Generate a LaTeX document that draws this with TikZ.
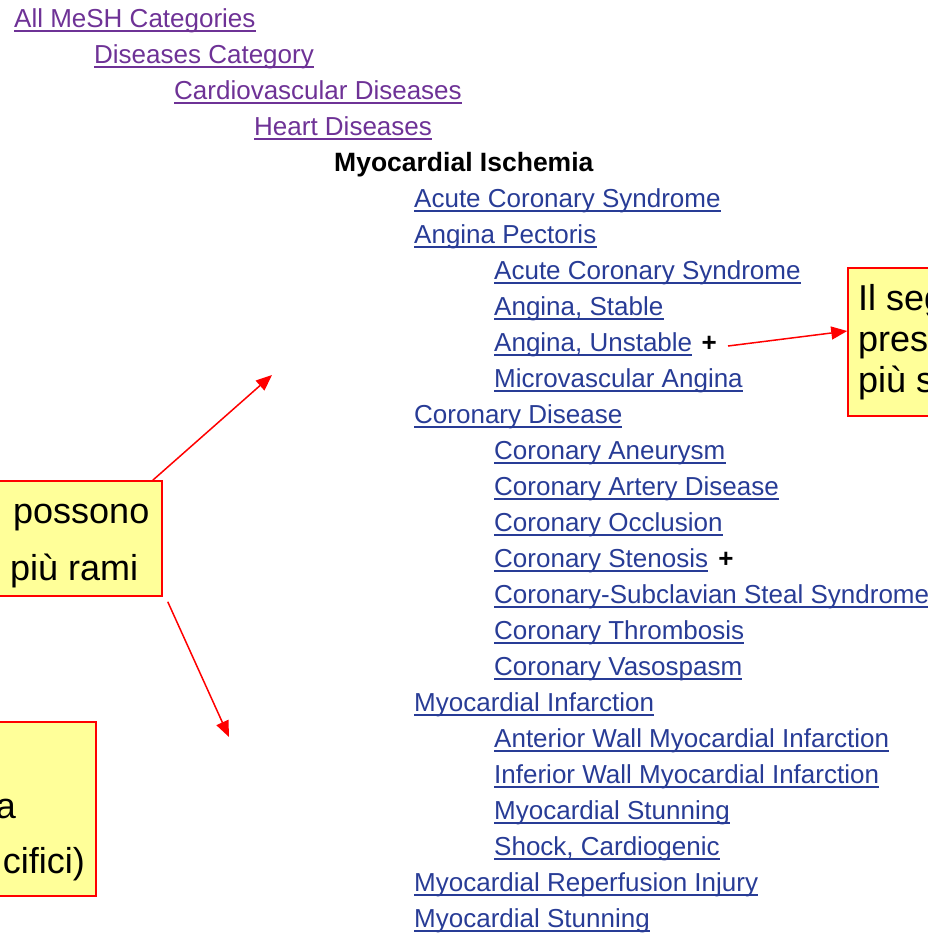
\documentclass[tikz,border=0pt]{standalone}
\usepackage{fontspec}
\setmainfont{Liberation Sans}
\usetikzlibrary{positioning,arrows.meta}
\definecolor{visited}{RGB}{110,50,150}
\definecolor{meshlink}{RGB}{40,60,150}
\definecolor{noteyellow}{RGB}{255,255,153}
\definecolor{notered}{RGB}{255,0,0}

\begin{document}
\begin{tikzpicture}[x=1pt,y=-1pt,
   every node/.style={inner sep=0pt,anchor=base west,font=\fontsize{26}{30}\selectfont},
   seen/.style={text=visited},term/.style={text=meshlink},
   plus/.style={font=\fontsize{26}{30}\selectfont\bfseries},
   note/.style={draw=notered,line width=1.5pt,fill=noteyellow,anchor=center},
   notetext/.style={font=\fontsize{36}{42}\selectfont},
   pointer/.style={draw=notered,line width=1.5pt,-{Triangle[length=16pt,width=13pt]}}]
\useasboundingbox (0,0) rectangle (928,935);
\clip (0,0) rectangle (928,935);

% tree path
\node[seen] (allmesh) at (14,27) {All MeSH Categories};
\node[seen] (diseases) at (94,63) {Diseases Category};
\node[seen] (cardio) at (174,99) {Cardiovascular Diseases};
\node[seen] (heart) at (254,135) {Heart Diseases};
\node[font=\fontsize{26.5}{30}\selectfont\bfseries] (ischemia) at (334,171) {Myocardial Ischemia};

% children
\node[term] (acs) at (414,207) {Acute Coronary Syndrome};
\node[term] (angina) at (414,243) {Angina Pectoris};
\node[term] (acs2) at (494,279) {Acute Coronary Syndrome};
\node[term] (stable) at (494,315) {Angina, Stable};
\node[term] (unstable) at (494,351) {Angina, Unstable};
\node[plus,base right=9pt of unstable] (plusA) {+};
\node[term] (microvasc) at (494,387) {Microvascular Angina};
\node[term] (coronary) at (414,423) {Coronary Disease};
\node[term] (aneurysm) at (494,459) {Coronary Aneurysm};
\node[term] (artery) at (494,495) {Coronary Artery Disease};
\node[term] (occlusion) at (494,531) {Coronary Occlusion};
\node[term] (stenosis) at (494,567) {Coronary Stenosis};
\node[plus,base right=10pt of stenosis] (plusB) {+};
\node[term] (subclavian) at (494,603) {Coronary-Subclavian Steal Syndrome};
\node[term] (thrombosis) at (494,639) {Coronary Thrombosis};
\node[term] (vasospasm) at (494,675) {Coronary Vasospasm};
\node[term] (infarction) at (414,711) {Myocardial Infarction};
\node[term] (anterior) at (494,747) {Anterior Wall Myocardial Infarction};
\node[term] (inferior) at (494,783) {Inferior Wall Myocardial Infarction};
\node[term] (stunning) at (494,819) {Myocardial Stunning};
\node[term] (shock) at (494,855) {Shock, Cardiogenic};
\node[term] (reperfusion) at (414,891) {Myocardial Reperfusion Injury};
\node[term] (stunning2) at (414,927) {Myocardial Stunning};

\foreach \n in {allmesh,diseases,cardio,heart}
  \draw[visited,line width=1.3pt] ([yshift=-4pt]\n.base west) -- ([yshift=-4pt]\n.base east);
\foreach \n in {acs,angina,acs2,stable,unstable,microvasc,coronary,aneurysm,artery,
                occlusion,stenosis,subclavian,thrombosis,vasospasm,infarction,
                anterior,inferior,stunning,shock,reperfusion,stunning2}
  \draw[meshlink,line width=1.3pt] ([yshift=-4pt]\n.base west) -- ([yshift=-4pt]\n.base east);

% callouts
\node[note,minimum width=100pt,minimum height=148pt] (rightnote) at (898,342) {};
\node[notetext] (rightA) at (858,310) {Il seg};
\node[notetext] (rightB) at (858,351) {pres};
\node[notetext] (rightC) at (858,392) {più s};

\node[note,minimum width=182pt,minimum height=115pt] (midnote) at (71,538.5) {};
\node[notetext] (midA) at (13,523) {possono};
\node[notetext] (midB) at (10,580) {più rami};

\node[note,minimum width=116pt,minimum height=174pt] (lownote) at (38,809) {};
\node[notetext,anchor=base east] (lowA) at (16,818) {a};
\node[notetext,anchor=base east] (lowB) at (85,873) {cifici)};

% arrows
\coordinate (fromplus) at (728,346);
\coordinate (up) at (272,375);
\coordinate (down) at (229,737);
\draw[pointer] (fromplus) -- ([yshift=11pt]rightnote.west);
\draw[pointer] ([xshift=-10pt]midnote.north east) -- (up);
\draw[pointer] ([shift={(5pt,-5pt)}]midnote.south east) -- (down);
\end{tikzpicture}
\end{document}
